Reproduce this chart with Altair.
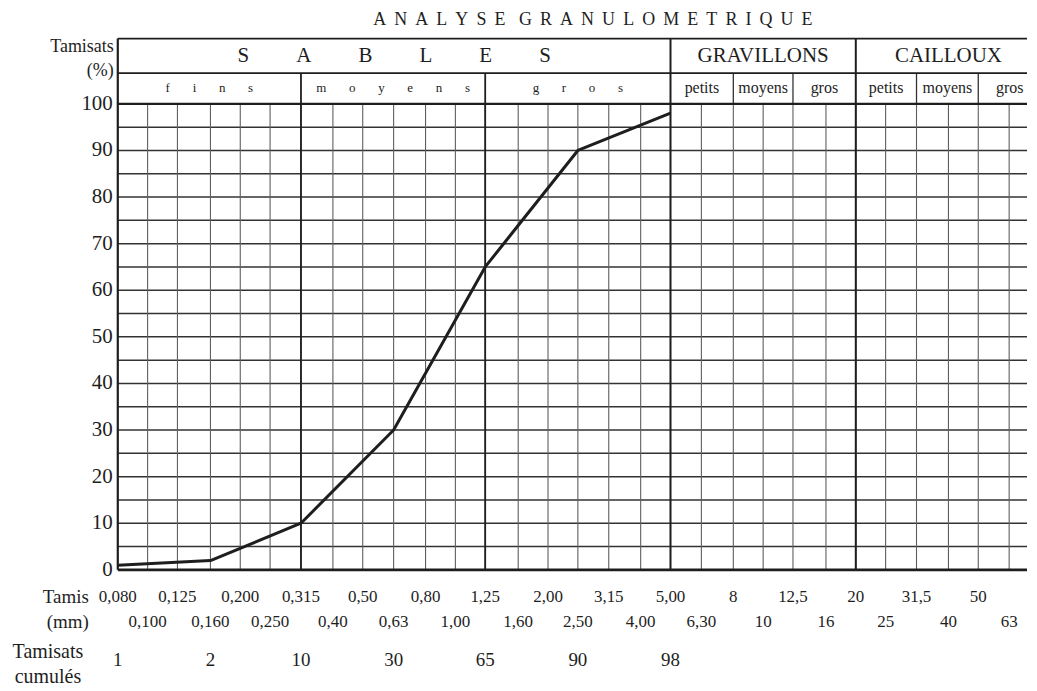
import altair as alt
import pandas as pd

# ---------------- data ----------------
sieves = [0.080, 0.100, 0.125, 0.160, 0.200, 0.250, 0.315, 0.40, 0.50, 0.63,
          0.80, 1.00, 1.25, 1.60, 2.00, 2.50, 3.15, 4.00, 5.00, 6.30,
          8, 10, 12.5, 16, 20, 25, 31.5, 40, 50, 63]
sieve_labels = ["0,080", "0,100", "0,125", "0,160", "0,200", "0,250", "0,315", "0,40", "0,50", "0,63",
                "0,80", "1,00", "1,25", "1,60", "2,00", "2,50", "3,15", "4,00", "5,00", "6,30",
                "8", "10", "12,5", "16", "20", "25", "31,5", "40", "50", "63"]

passing_sieves = [0.080, 0.160, 0.315, 0.63, 1.25, 2.50, 5.00]
passing_pct = [1, 2, 10, 30, 65, 90, 98]
passing_labels = ["1", "2", "10", "30", "65", "90", "98"]

groups = ["SABLES", "GRAVILLONS", "CAILLOUX"]
group_bounds = [0.080, 5.00, 20, 80]
subgroups = ["fins", "moyens", "gros", "petits", "moyens", "gros", "petits", "moyens", "gros"]
sub_bounds = [0.080, 0.315, 1.25, 5.00, 8, 12.5, 20, 31.5, 50, 80]

y_ticks = list(range(0, 101, 10))
y_grid = list(range(5, 100, 5))

# ---------------- layout / style ----------------
W, H = 911, 649
HDR1, HDR2 = 106.6, 114.0
SERIF = "'Liberation Serif', 'Times New Roman', Times, serif"
INK = "#1e1e1e"
NB = "\u00a0"

xs = alt.Scale(type="log", domain=[0.08, 72], nice=False)
ys = alt.Scale(domain=[-25, 114], nice=False, zero=False)


def X(f):
    return alt.X(f, type="quantitative", scale=xs, axis=None)


def Y(f):
    return alt.Y(f, type="quantitative", scale=ys, axis=None)


def spaced(word, n):
    return (NB * n).join(list(word))


# horizontal grid
hgrid = alt.Chart(pd.DataFrame({"y": y_grid})).mark_rule(color="#333333", strokeWidth=1.5).encode(
    y=Y("y"), x=alt.value(0), x2=alt.value(W))

# y tick labels
ylab = alt.Chart(pd.DataFrame({"y": y_ticks, "t": [str(v) for v in y_ticks]})).mark_text(
    font=SERIF, fontSize=21, color=INK, align="right", baseline="middle").encode(
    x=alt.value(-5), y=Y("y"), text="t:N")

# frame horizontals
frame_h = pd.DataFrame({"y": [0, 100, HDR1, HDR2], "w": [2.6, 2.2, 1.8, 1.8]})
hframe = alt.Chart(frame_h).mark_rule(color=INK).encode(
    y=Y("y"), x=alt.value(0), x2=alt.value(W),
    strokeWidth=alt.StrokeWidth("w:Q", scale=None))

# vertical lines
rows = []
for s in sieves[1:]:
    rows.append({"x": s, "y1": 0, "y2": 100, "w": 1.1, "c": "#5f5f5f"})
for s in [8, 12.5, 31.5, 50]:
    rows.append({"x": s, "y1": 100, "y2": HDR1, "w": 1.3, "c": "#333333"})
for s in [0.315, 1.25]:
    rows.append({"x": s, "y1": 0, "y2": HDR1, "w": 1.8, "c": INK})
for s in [5.00, 20]:
    rows.append({"x": s, "y1": 0, "y2": HDR2, "w": 2.0, "c": INK})
rows.append({"x": 0.080, "y1": 0, "y2": HDR2, "w": 2.2, "c": INK})
vlines = alt.Chart(pd.DataFrame(rows)).mark_rule().encode(
    x=X("x"), y=Y("y1"), y2="y2:Q",
    strokeWidth=alt.StrokeWidth("w:Q", scale=None),
    color=alt.Color("c:N", scale=None))

# curve
curve = alt.Chart(pd.DataFrame({"x": passing_sieves, "y": passing_pct})).mark_line(
    color=INK, strokeWidth=3, strokeJoin="round").encode(x=X("x"), y=Y("y"))

# header texts
g_rows = []
for i, g in enumerate(groups):
    lo, hi = group_bounds[i], group_bounds[i + 1]
    txt = spaced(g, 9) if g == "SABLES" else g
    g_rows.append({"x": (lo * hi) ** 0.5, "y": (HDR1 + HDR2) / 2, "t": txt,
                   "dx": 8 if g == "SABLES" else 0})
gtext = alt.Chart(pd.DataFrame(g_rows)).mark_text(font=SERIF, fontSize=21, color=INK, baseline="middle").encode(
    x=X("x"), y=Y("y"), text="t:N", xOffset=alt.XOffset("dx:Q", scale=None))

s_rows = []
for i, g in enumerate(subgroups):
    lo, hi = sub_bounds[i], sub_bounds[i + 1]
    big = i < 3
    s_rows.append({"x": (lo * hi) ** 0.5, "y": (100 + HDR1) / 2,
                   "t": spaced(g, 7) if big else g, "fs": 13 if big else 16})
stext = alt.Chart(pd.DataFrame(s_rows)).mark_text(font=SERIF, color=INK, baseline="middle").encode(
    x=X("x"), y=Y("y"), text="t:N", size=alt.Size("fs:Q", scale=None))

# bottom sieve labels (two staggered rows)
lab_df = pd.DataFrame({"x": sieves, "t": sieve_labels,
                       "y": [-5.8 if i % 2 == 0 else -11.1 for i in range(len(sieves))]})
labtext = alt.Chart(lab_df).mark_text(font=SERIF, fontSize=17, color=INK, baseline="middle").encode(
    x=X("x"), y=Y("y"), text="t:N")

# cumulative passing labels
cum_df = pd.DataFrame({"x": passing_sieves, "t": passing_labels, "y": [-19.3] * len(passing_labels)})
cumtext = alt.Chart(cum_df).mark_text(font=SERIF, fontSize=19, color=INK, baseline="middle").encode(
    x=X("x"), y=Y("y"), text="t:N")

# left captions
cap1 = alt.Chart(pd.DataFrame({"t": ["Tamisats", "(%)"], "y": [112.3, 107.0]})).mark_text(
    font=SERIF, fontSize=18, color=INK, align="right", baseline="middle").encode(
    x=alt.value(-4), y=Y("y"), text="t:N")
cap2 = alt.Chart(pd.DataFrame({"t": ["Tamis", "(mm)"], "y": [-5.8, -11.1]})).mark_text(
    font=SERIF, fontSize=19, color=INK, align="right", baseline="middle").encode(
    x=alt.value(-29), y=Y("y"), text="t:N")
cap3 = alt.Chart(pd.DataFrame({"t": ["Tamisats", "cumulés"], "y": [-17.6, -23.1]})).mark_text(
    font=SERIF, fontSize=20, color=INK, align="center", baseline="middle").encode(
    x=alt.value(-70), y=Y("y"), text="t:N")

# title
title_txt = (NB * 3).join(spaced(w, 1).replace(NB, NB + "\u2009") for w in ["ANALYSE", "GRANULOMETRIQUE"])
title = alt.Chart(pd.DataFrame({"t": [title_txt]})).mark_text(
    font=SERIF, fontSize=18, color=INK, align="center", baseline="middle").encode(
    x=alt.value(476), y=alt.value(-19), text="t:N")

chart = alt.layer(hgrid, vlines, hframe, curve, ylab, gtext, stext, labtext, cumtext,
                  cap1, cap2, cap3, title).properties(
    width=W, height=H,
    autosize=alt.AutoSizeParams(type="none"),
    padding={"left": 110, "top": 30, "right": 2, "bottom": 0},
    background="white",
).configure_view(stroke=None)

chart.save("out.html", embed_options={"renderer": "svg", "actions": False})
